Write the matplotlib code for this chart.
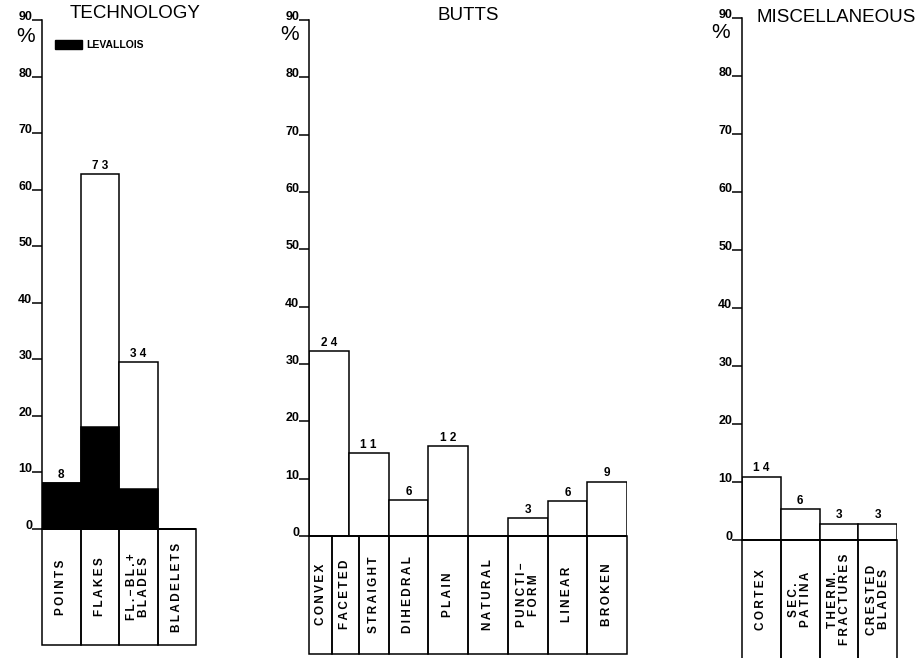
import matplotlib
matplotlib.use("Agg")
import matplotlib.pyplot as plt
from matplotlib.patches import Rectangle

plt.rcParams["font.family"] = ["Liberation Sans", "DejaVu Sans"]

W, H = 919, 658

# ---- data (percent, counts printed above the bars) ----
tech_labels = ["POINTS", "FLAKES", "FL.\u2212BL.+\nBLADES", "BLADELETS"]
tech_pct = [8.1, 62.8, 29.5, 0]
tech_levallois = [8.1, 18.1, 7.0, 0]
tech_counts = [8, 73, 34, None]

butts_labels = ["CONVEX", "FACETED", "STRAIGHT", "DIHEDRAL", "PLAIN",
                "NATURAL", "PUNCTI\u2212\nFORM", "LINEAR", "BROKEN"]
butts_pct = [32.2, 14.5, 6.3, 15.7, 0, 3.1, 6.1, 9.5]
butts_counts = [24, 11, 6, 12, None, 3, 6, 9]

misc_labels = ["CORTEX", "SEC.\nPATINA", "THERM.\nFRACTURES", "CRESTED\nBLADES"]
misc_pct = [10.9, 5.3, 2.8, 2.8]
misc_counts = [14, 6, 3, 3]

# ---- layout ----
BOX_DEPTH = 20.5     # label boxes hang below the zero line, in % units
LW = 1.1
# label box edges in bar units (butts: first three boxes are narrower)
tech_edges = [0, 1, 2, 3, 4]
butts_edges = [0, 0.58, 1.25, 2, 3, 4, 5, 6, 7, 8]
misc_edges = [0, 1, 2, 3, 4]

fig = plt.figure(figsize=(W / 100, H / 100), dpi=100)


def spaced(s):
    # the original lettering is spread out
    return "\n".join("\u2009".join(line) for line in s.split("\n"))


def make_axes(left, right, top90, zero, nunits):
    per = (zero - top90) / 90.0
    bottom = zero + (BOX_DEPTH + 0.6) * per
    ax = fig.add_axes([left / W, 1 - bottom / H, (right - left) / W, (bottom - top90) / H])
    ax.set_xlim(0, nunits)
    ax.set_ylim(-BOX_DEPTH - 0.6, 90)
    ax.patch.set_alpha(0)
    for s in ("top", "right", "bottom"):
        ax.spines[s].set_visible(False)
    ax.spines["left"].set_bounds(0, 90)
    ax.spines["left"].set_linewidth(LW)
    ax.set_xticks([])
    ax.set_yticks(range(0, 91, 10))
    ax.tick_params(axis="y", direction="out", length=7, width=LW, pad=0, labelsize=9)
    for t in ax.get_yticklabels():
        t.set_fontweight("bold")
        t.set_va("baseline")
    ax.axhline(0, color="black", lw=LW)
    return ax


def draw_bars(ax, pct, counts):
    xs = list(range(len(pct)))
    ax.bar(xs, pct, width=1, align="edge", facecolor="white", edgecolor="black", lw=LW)
    for x, p, c in zip(xs, pct, counts):
        if c is None:
            continue
        ax.text(x + 0.5, p + 0.4, " ".join(str(c)), ha="center", va="bottom",
                fontsize=8.5, fontweight="bold")


def draw_boxes(ax, edges, labels):
    for e0, e1, lab in zip(edges[:-1], edges[1:], labels):
        ax.add_patch(Rectangle((e0, -BOX_DEPTH), e1 - e0, BOX_DEPTH, fill=False,
                               lw=LW, edgecolor="black", clip_on=False))
        ax.text((e0 + e1) / 2, -BOX_DEPTH / 2, spaced(lab), rotation=90, ha="center",
                va="center", fontsize=8.5, fontweight="bold", linespacing=1.0,
                multialignment="center")


# TECHNOLOGY
ax1 = make_axes(42, 196, 20, 529, 4)
draw_bars(ax1, tech_pct, tech_counts)
ax1.bar(range(len(tech_levallois)), tech_levallois, width=1, align="edge",
        color="black", edgecolor="black", lw=LW)
draw_boxes(ax1, tech_edges, tech_labels)
ax1.add_patch(Rectangle((0.34, 84.8), 0.70, 1.6, color="black", clip_on=False))
ax1.text(1.14, 85.6, "LEVALLOIS", ha="left", va="center", fontsize=7.5, fontweight="bold")

# BUTTS
ax2 = make_axes(309, 627, 20, 536, 8)
draw_bars(ax2, butts_pct, butts_counts)
draw_boxes(ax2, butts_edges, butts_labels)

# MISCELLANEOUS
ax3 = make_axes(742, 897, 18, 540, 4)
draw_bars(ax3, misc_pct, misc_counts)
draw_boxes(ax3, misc_edges, misc_labels)

# titles and % signs
fig.text(135 / W, 1 - 14 / H, "TECHNOLOGY", ha="center", va="center", fontsize=13.5)
fig.text(468 / W, 1 - 15 / H, "BUTTS", ha="center", va="center", fontsize=13.5)
fig.text(757 / W, 1 - 17 / H, "MISCELLANEOUS", ha="left", va="center", fontsize=13.5)
for px, py in [(26, 36), (290, 35), (721, 32)]:
    fig.text(px / W, 1 - py / H, "%", ha="center", va="center", fontsize=15)

fig.savefig("out.png", dpi=100)
